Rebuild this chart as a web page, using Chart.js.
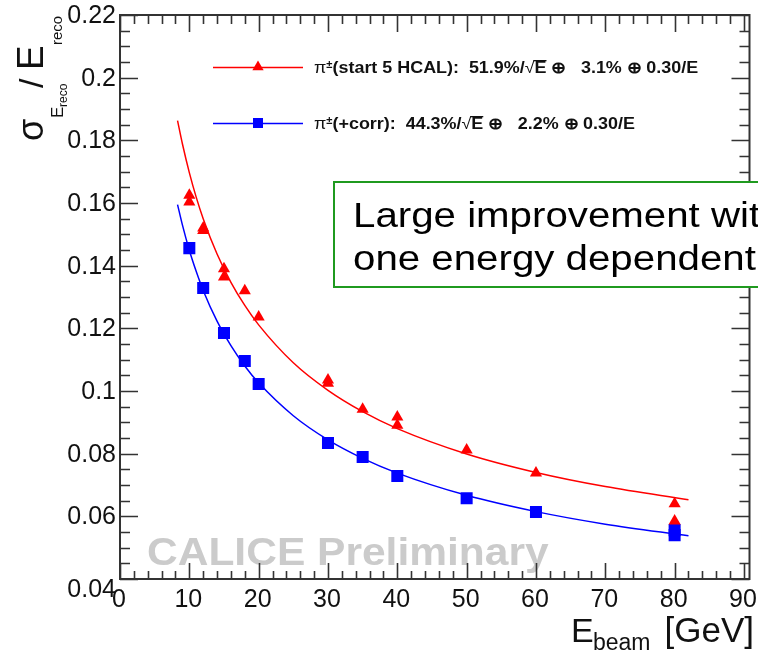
<!DOCTYPE html>
<html>
<head>
<meta charset="utf-8">
<script src="https://cdn.jsdelivr.net/npm/chart.js@4/dist/chart.umd.min.js"></script>
<style>
  html, body { margin: 0; padding: 0; background: #fff; }
  #wrap { width: 758px; height: 652px; }
</style>
</head>
<body>
<div id="wrap"><canvas id="res" width="758" height="652"></canvas></div>
<script>
// beam energies [GeV] and measured relative resolution
var energyStart = [10, 10, 12, 12, 15, 15, 18, 20, 30, 30, 35, 40, 40, 50, 60, 80, 80];
var resStart    = [0.1625, 0.1603, 0.1520, 0.1512, 0.1390, 0.1364, 0.1320, 0.1236, 0.1035, 0.1025,
                   0.0942, 0.0917, 0.0891, 0.0812, 0.0738, 0.0640, 0.0585];
var energyCorr  = [10, 12, 15, 18, 20, 30, 35, 40, 50, 60, 80, 80];
var resCorr     = [0.1456, 0.1329, 0.1185, 0.1096, 0.1022, 0.0834, 0.0789, 0.0729, 0.0658, 0.0614, 0.0556, 0.0540];

// fitted curves, sampled along the energy range
var fitEnergy   = [8.3, 9, 10, 11, 12, 14, 16, 18, 20, 25, 30, 35, 40, 50, 60, 70, 82];
var fitStart    = [0.1863, 0.1789, 0.1697, 0.1618, 0.1550, 0.1437, 0.1347, 0.1273, 0.1211, 0.1090,
                   0.1002, 0.0934, 0.0880, 0.0799, 0.0740, 0.0695, 0.0653];
var fitCorr     = [0.1595, 0.1530, 0.1449, 0.1381, 0.1321, 0.1223, 0.1145, 0.1080, 0.1026, 0.0921,
                   0.0844, 0.0785, 0.0738, 0.0667, 0.0615, 0.0575, 0.0538];

var xTicks = [0, 10, 20, 30, 40, 50, 60, 70, 80, 90];
var yTicks = ["0.04", "0.06", "0.08", "0.1", "0.12", "0.14", "0.16", "0.18", "0.2", "0.22"];

var RED = "#ff0000", BLUE = "#0000ff", AXIS = "#333333";
var FONT = "'Liberation Sans', Arial, sans-serif";

function pts(xs, ys) {
  return xs.map(function(x, i) { return { x: x, y: ys[i] }; });
}

function triangle(ctx, x, y, r) {
  ctx.beginPath();
  ctx.moveTo(x, y - r);
  ctx.lineTo(x + r * 0.866, y + r * 0.5);
  ctx.lineTo(x - r * 0.866, y + r * 0.5);
  ctx.closePath();
  ctx.fill();
}

// draws a run of text pieces: [text, font, dy, overline]
function runText(ctx, x, y, pieces) {
  pieces.forEach(function(p) {
    ctx.font = p[1];
    var w = ctx.measureText(p[0]).width;
    ctx.fillText(p[0], x, y + (p[2] || 0));
    if (p[3]) {
      ctx.fillRect(x - 1, y - 13, w + 1, 1.3);
    }
    x += w;
  });
  return x;
}

var rootStyle = {
  id: "rootStyle",
  beforeDatasetsDraw: function(chart) {
    var ctx = chart.ctx;
    ctx.save();
    ctx.fillStyle = "#cbcbcb";
    ctx.font = "bold 39px " + FONT;
    ctx.textBaseline = "alphabetic";
    ctx.translate(147, 0);
    ctx.scale(1.09, 1);
    ctx.fillText("CALICE Preliminary", 0, 565);
    ctx.restore();
  },
  afterDatasetsDraw: function(chart) {
    var ctx = chart.ctx, a = chart.chartArea;
    var sx = chart.scales.x, sy = chart.scales.y;
    ctx.save();

    // frame
    ctx.strokeStyle = AXIS;
    ctx.lineWidth = 2;
    ctx.strokeRect(a.left, a.top, a.right - a.left, a.bottom - a.top);

    // inward ticks on all four sides
    ctx.lineWidth = 1.6;
    ctx.beginPath();
    for (var v = 0; v <= 90.001; v += 2) {
      var px = Math.round(sx.getPixelForValue(v)) + 0.5;
      var major = Math.abs(v % 10) < 0.001;
      ctx.moveTo(px, a.bottom); ctx.lineTo(px, a.bottom - (major ? 16 : 8));
      ctx.moveTo(px, a.top); ctx.lineTo(px, a.top + (major ? 17 : 9));
    }
    for (var k = 0; k <= 36; k++) {
      var py = Math.round(sy.getPixelForValue(0.04 + k * 0.005)) + 0.5;
      var ly = k % 4 === 0 ? 18 : 10;
      ctx.moveTo(a.left, py); ctx.lineTo(a.left + ly, py);
      ctx.moveTo(a.right, py); ctx.lineTo(a.right - ly, py);
    }
    ctx.stroke();

    // tick labels
    ctx.fillStyle = "#111";
    ctx.font = "25px " + FONT;
    ctx.textAlign = "right";
    ctx.textBaseline = "middle";
    yTicks.forEach(function(t, i) {
      var y = sy.getPixelForValue(parseFloat(t)) + 1;
      if (i === 0) y += 10;
      ctx.fillText(t, 116, y);
    });
    ctx.textAlign = "center";
    ctx.textBaseline = "alphabetic";
    xTicks.forEach(function(t) {
      ctx.fillText(String(t), sx.getPixelForValue(t) - 1, 607);
    });

    // x title
    ctx.textAlign = "left";
    ctx.font = "34px " + FONT;
    ctx.fillText("E", 571, 642);
    ctx.font = "23px " + FONT;
    ctx.fillText("beam", 593, 650);
    ctx.textAlign = "right";
    ctx.font = "35px " + FONT;
    ctx.fillText("[GeV]", 754, 642);

    // y title, rotated; u runs upward from y = 150
    ctx.save();
    ctx.translate(43, 150);
    ctx.rotate(-Math.PI / 2);
    ctx.textAlign = "left";
    ctx.font = "36px " + FONT;
    ctx.fillText("\u03c3", 9, 0);
    ctx.font = "17px " + FONT;
    ctx.fillText("E", 32, 20);
    ctx.font = "12px " + FONT;
    ctx.fillText("reco", 43, 24);
    ctx.font = "34px " + FONT;
    ctx.fillText("/", 62, 0);
    ctx.font = "37px " + FONT;
    ctx.fillText("E", 80, 0);
    ctx.font = "15px " + FONT;
    ctx.fillText("reco", 105, 19);
    ctx.restore();

    // legend
    ctx.textAlign = "left";
    ctx.lineWidth = 1.4;
    ctx.strokeStyle = RED;
    ctx.beginPath(); ctx.moveTo(213, 67.5); ctx.lineTo(303, 67.5); ctx.stroke();
    ctx.fillStyle = RED;
    triangle(ctx, 258, 67, 6.5);
    ctx.strokeStyle = BLUE;
    ctx.beginPath(); ctx.moveTo(213, 123.5); ctx.lineTo(303, 123.5); ctx.stroke();
    ctx.fillStyle = BLUE;
    ctx.fillRect(253, 118, 10, 10);

    ctx.fillStyle = "#111";
    var B = "bold 16px " + FONT, S = "bold 10px " + FONT, P = "16px " + FONT;
    ctx.save();
    ctx.translate(314, 0);
    ctx.scale(1.12, 1);
    runText(ctx, 0, 73, [
      ["\u03c0", P, 0], ["\u00b1", S, -5], ["(start 5 HCAL):  51.9%/", B, 0],
      ["\u221a", P, 0], ["E", B, 0, true], [" \u2295   3.1% \u2295 0.30/E", B, 0]
    ]);
    runText(ctx, 0, 129, [
      ["\u03c0", P, 0], ["\u00b1", S, -5], ["(+corr):  44.3%/", B, 0],
      ["\u221a", P, 0], ["E", B, 0, true], [" \u2295   2.2% \u2295 0.30/E", B, 0]
    ]);
    ctx.restore();

    // note box
    ctx.fillStyle = "#fff";
    ctx.fillRect(334, 182, 440, 105);
    ctx.strokeStyle = "#1f9a1f";
    ctx.lineWidth = 2;
    ctx.strokeRect(334, 182, 440, 105);
    ctx.fillStyle = "#000";
    ctx.save();
    ctx.translate(353, 0);
    ctx.scale(1.15, 1);
    ctx.font = "35px " + FONT;
    ctx.fillText("Large improvement with", 0, 227);
    ctx.fillText("one energy dependent", 0, 270);
    ctx.restore();

    ctx.restore();
  }
};

new Chart(document.getElementById("res"), {
  type: "scatter",
  data: {
    datasets: [
      { label: "fit start", data: pts(fitEnergy, fitStart), showLine: true, borderColor: RED,
        borderWidth: 1.5, pointRadius: 0, cubicInterpolationMode: "monotone" },
      { label: "fit corr", data: pts(fitEnergy, fitCorr), showLine: true, borderColor: BLUE,
        borderWidth: 1.5, pointRadius: 0, cubicInterpolationMode: "monotone" },
      { label: "start 5 HCAL", data: pts(energyStart, resStart), pointStyle: "triangle",
        pointRadius: 7, backgroundColor: RED, borderColor: RED, borderWidth: 0 },
      { label: "+corr", data: pts(energyCorr, resCorr), pointStyle: "rect",
        pointRadius: 8.5, backgroundColor: BLUE, borderColor: BLUE, borderWidth: 0 }
    ]
  },
  options: {
    responsive: false,
    animation: false,
    layout: { padding: { left: 120, right: 6, top: 15, bottom: 73 } },
    scales: {
      x: { type: "linear", min: 0, max: 90.8, display: false },
      y: { type: "linear", min: 0.04, max: 0.22, display: false }
    },
    plugins: { legend: { display: false }, tooltip: { enabled: false } }
  },
  plugins: [rootStyle]
});
</script>
</body>
</html>
